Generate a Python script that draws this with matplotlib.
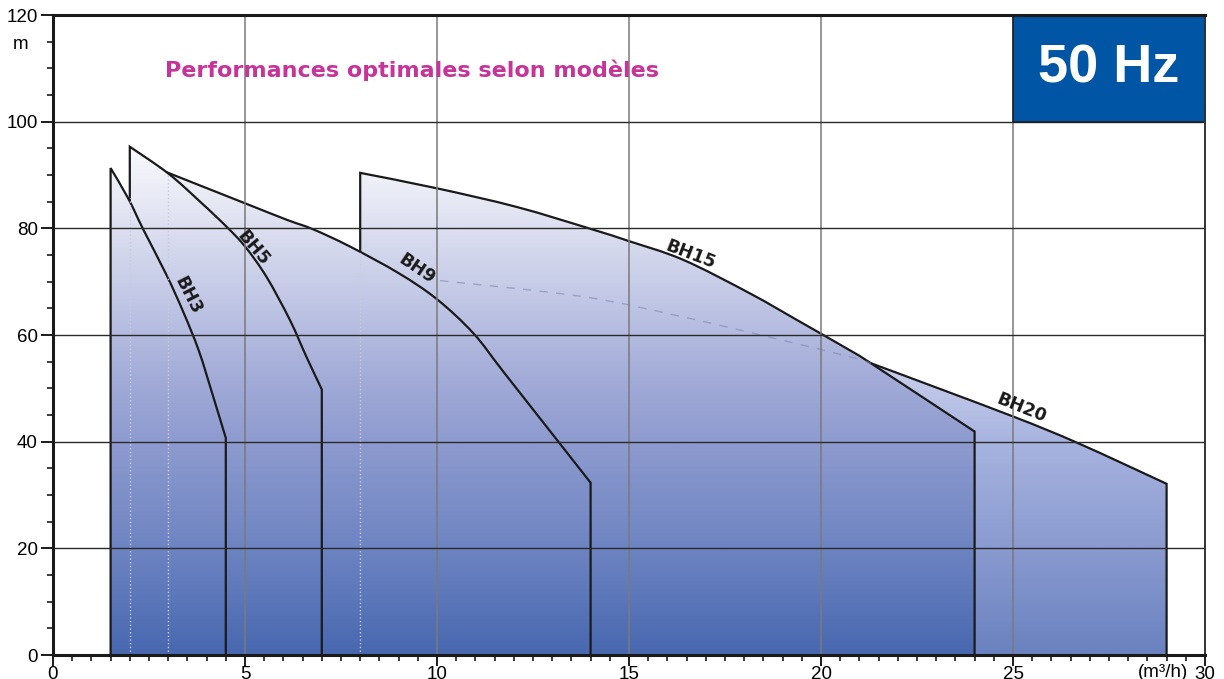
import numpy as np
import matplotlib
matplotlib.use("Agg")
import matplotlib.pyplot as plt
from matplotlib.colors import LinearSegmentedColormap
from matplotlib.patches import PathPatch, Rectangle
from matplotlib.path import Path

# pump curves: flow (m3/h) vs head (m)
bh3_q = [1.5, 1.96, 2.35, 2.96, 3.4, 3.8, 4.17, 4.5]
bh3_h = [91.3, 85.6, 79.8, 71.2, 64.2, 57.0, 48.5, 40.7]

bh5_q = [2.0, 3.0, 3.83, 4.52, 5.0, 5.56, 6.17, 6.6, 7.0]
bh5_h = [95.3, 90.3, 85.0, 80.3, 76.6, 70.9, 62.8, 55.9, 49.8]

bh9_q = [3.0, 5.0, 6.09, 6.78, 7.73, 9.0, 10.0, 10.95, 11.73, 13.16, 14.0]
bh9_h = [90.4, 84.7, 81.6, 79.8, 76.6, 71.6, 66.7, 60.3, 53.1, 40.0, 32.3]

bh15_q = [8.0, 10.0, 12.08, 14.0, 15.0, 16.41, 18.15, 19.45, 20.76, 21.3, 24.0]
bh15_h = [90.4, 87.5, 84.0, 79.9, 77.6, 74.1, 67.8, 62.5, 57.1, 54.7, 41.9]

bh20_q = [10.08, 13.8, 16.4, 18.6, 20.76, 21.3, 24.9, 26.7, 29.0]
bh20_h = [70.2, 67.2, 63.4, 59.7, 55.9, 54.7, 45.0, 39.7, 32.1]

x_ticks = [0, 5, 10, 15, 20, 25, 30]
y_ticks = [0, 20, 40, 60, 80, 100, 120]

plt.rcParams['font.family'] = ['Liberation Sans', 'DejaVu Sans']

fig = plt.figure(figsize=(12.24, 6.79), dpi=100)
ax = fig.add_axes([53 / 1224, 1 - 655 / 679, 1152 / 1224, 640 / 679])
ax.set_xlim(0, 30)
ax.set_ylim(0, 120)

main_cmap = LinearSegmentedColormap.from_list('main', [
    (0.0, '#4868b0'), (0.20, '#6e84c2'), (0.40, '#8e9bcf'), (0.52, '#a3acd8'),
    (0.70, '#c8cde8'), (0.85, '#e6e8f4'), (0.97, '#fdfdff'), (1.0, '#ffffff')])
light_cmap = LinearSegmentedColormap.from_list('light', [
    (0.0, '#6a82c0'), (0.20, '#8a9ad0'), (0.40, '#a8b4e0'), (0.52, '#c4cbea'),
    (0.70, '#dde1f2'), (1.0, '#ffffff')])

grad = np.linspace(0, 1, 400).reshape(-1, 1)


def smooth_verts(q, h):
    # bezier segments through the read points (catmull-rom style handles)
    p = np.column_stack([q, h]).astype(float)
    verts, codes = [tuple(p[0])], [Path.MOVETO]
    n = len(p)
    for i in range(n - 1):
        p0 = p[i - 1] if i > 0 else p[i]
        p3 = p[i + 2] if i + 2 < n else p[i + 1]
        c1 = p[i] + (p[i + 1] - p0) / 6
        c2 = p[i + 1] - (p3 - p[i]) / 6
        verts += [tuple(c1), tuple(c2), tuple(p[i + 1])]
        codes += [Path.CURVE4] * 3
    return verts, codes


def pump_path(q, h, closed):
    v, c = smooth_verts(q, h)
    verts = [(q[0], 0)] + v + [(q[-1], 0)]
    codes = [Path.MOVETO, Path.LINETO] + c[1:] + [Path.LINETO]
    if closed:
        verts.append((q[0], 0))
        codes.append(Path.CLOSEPOLY)
    return Path(verts, codes)


def pump(q, h, cmap, z):
    clip = PathPatch(pump_path(q, h, True), facecolor='none', edgecolor='none')
    ax.add_patch(clip)
    im = ax.imshow(grad, extent=[0, 30, 0, 100], origin='lower', cmap=cmap,
                   aspect='auto', zorder=z, interpolation='bilinear')
    im.set_clip_path(clip)
    ax.add_patch(PathPatch(pump_path(q, h, False), facecolor='none', edgecolor='#1a1a1a',
                           lw=1.6, zorder=z + 0.5, joinstyle='miter'))


pump(bh20_q, bh20_h, light_cmap, 2)
pump(bh15_q, bh15_h, main_cmap, 3)
pump(bh9_q, bh9_h, main_cmap, 4)
pump(bh5_q, bh5_h, main_cmap, 5)
pump(bh3_q, bh3_h, main_cmap, 6)

# hidden part of BH20 and hidden edges
hv, hc = smooth_verts(bh20_q[:6], bh20_h[:6])
ax.add_patch(PathPatch(Path(hv, hc), facecolor='none', edgecolor='#8088b0', lw=1.0,
                       ls=(0, (6, 6)), alpha=0.6, zorder=7))
ax.plot([2, 2], [0, 85.6], color='#c8cce0', lw=1.0, ls=':', zorder=7)
ax.plot([3, 3], [0, 90.4], color='#c8cce0', lw=1.0, ls=':', zorder=7)
ax.plot([8, 8], [0, 76.0], color='#c8cce0', lw=1.0, ls=':', zorder=7)

# grid
for xv in x_ticks[1:-1]:
    ax.axvline(xv, color='#7a7a7a', lw=1.1, zorder=8)
for yv in y_ticks[1:-1]:
    ax.axhline(yv, color='#2a2a2a', lw=1.0, zorder=8)

# 50 Hz box
ax.add_patch(Rectangle((25, 100), 5, 20, facecolor='#0055a4', edgecolor='#222222',
                       lw=1.2, zorder=20, clip_on=False))
ax.text(27.5, 110, '50 Hz', color='white', fontsize=39, fontweight='bold',
        ha='center', va='center', zorder=21)

ax.text(9.35, 109.6, 'Performances optimales selon modèles', color='#c8339a',
        fontsize=16, fontweight='bold', family='DejaVu Sans',
        ha='center', va='center', zorder=21)

# model labels
labels = [('BH3', 3.5, 67.4, -63), ('BH5', 5.2, 76.3, -50), ('BH9', 9.47, 72.4, -34),
          ('BH15', 16.59, 75.0, -21), ('BH20', 25.23, 46.3, -22)]
for txt, lx, ly, rot in labels:
    ax.text(lx, ly, txt, fontsize=12.5, fontweight='bold', color='#1a1a1a',
            family='DejaVu Sans', rotation=rot, rotation_mode='anchor',
            ha='center', va='center', zorder=12)

ax.set_xticks(x_ticks)
ax.set_yticks(y_ticks)
ax.set_xticks(np.arange(0, 30.01, 0.5), minor=True)
ax.set_yticks(np.arange(0, 120.01, 5), minor=True)
ax.tick_params(which='major', length=9, width=1.4, labelsize=13.5, color='#1a1a1a')
ax.tick_params(axis='x', which='major', length=8, pad=0)
ax.tick_params(axis='y', which='major', pad=2)
ax.tick_params(which='minor', length=4, width=1.2, color='#1a1a1a')
for s in ['left', 'bottom', 'top']:
    ax.spines[s].set_linewidth(2.2)
    ax.spines[s].set_color('#1a1a1a')
ax.spines['right'].set_linewidth(1.4)
ax.spines['right'].set_color('#333333')
for sp in ax.spines.values():
    sp.set_zorder(22)

ax.text(-0.85, 114.5, 'm', fontsize=13.5, ha='center', va='center')
ax.text(28.9, -3.3, '(m³/h)', fontsize=13.5, ha='center', va='center', clip_on=False)

fig.savefig('out.png', dpi=100)
